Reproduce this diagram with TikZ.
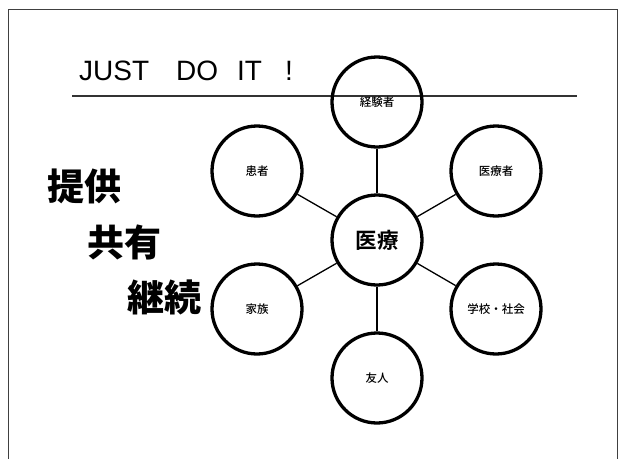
\documentclass[tikz,border=0pt]{standalone}
\usepackage{fontspec}
\setmainfont{Liberation Sans}
\newfontfamily\cjk{Noto Sans CJK JP Medium}
\newfontfamily\cjkbold{Noto Sans CJK JP Bold}
\newfontfamily\cjkheavy{Noto Sans CJK JP Black}
\begin{document}
\begin{tikzpicture}[x=1pt,y=-1pt,
  ring/.style={circle,draw,line width=3.3pt,minimum size=90pt,inner sep=0pt,font=\cjk\fontsize{11.5}{12}\selectfont},
  hub/.style={ring,font=\cjkbold\fontsize{21.5}{22}\selectfont},
  link/.style={line width=1.3pt},
  bigword/.style={font=\cjkheavy\fontsize{37}{38}\selectfont,inner sep=0pt},
  frameline/.style={line width=0.9pt,draw=black!75}]
\useasboundingbox (0,0) rectangle (620,458);
% frame (open at bottom)
\coordinate (fbl) at (8,470);
\coordinate (ftl) at (8,9);
\coordinate (ftr) at (617,9);
\coordinate (fbr) at (617,470);
\draw[frameline] (fbl) -- (ftl) -- (ftr) -- (fbr);
% title
\node[anchor=base west,inner sep=0pt,font=\fontsize{28}{30}\selectfont] (title) at (79,80)
  {JUST\hspace{27pt}DO\hspace{19pt}IT\hspace{23pt}!};
\coordinate (rl) at (72,96);
\coordinate (rr) at (577,96);
\draw[line width=1.1pt,draw=black!80] (rl) -- (rr);
% nodes
\node[hub] (c) at (377,240) {医療};
\node[ring] (n1) at (377,102) {経験者};
\node[ring] (n2) at (496,171) {医療者};
\node[ring] (n3) at (496,309) {学校・社会};
\node[ring] (n4) at (377,378) {友人};
\node[ring] (n5) at (257,309) {家族};
\node[ring] (n6) at (257,171) {患者};
\foreach \n in {n1,n2,n3,n4,n5,n6} \draw[link] (c) -- (\n);
% left words
\node[bigword] (w1) at (84,186) {提供};
\node[bigword] (w2) at (124,242) {共有};
\node[bigword] (w3) at (164,297) {継続};
\end{tikzpicture}
\end{document}
